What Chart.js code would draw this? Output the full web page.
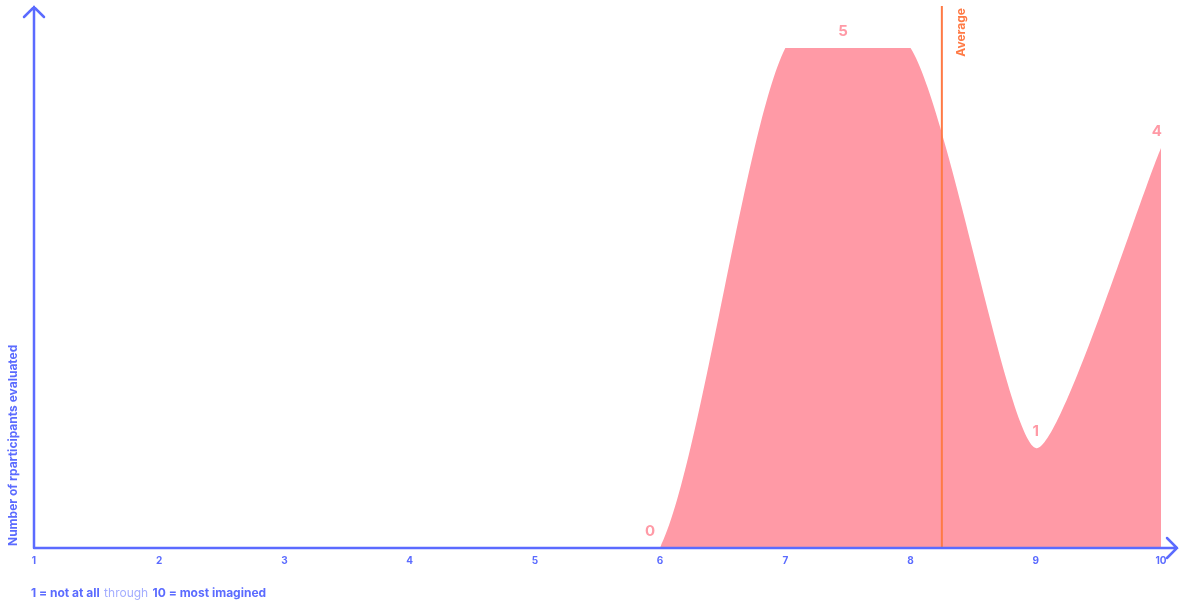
<!DOCTYPE html>
<html>
<head>
<meta charset="utf-8">
<script src="https://cdn.jsdelivr.net/npm/chart.js@4"></script>
<style>
  html, body { margin: 0; padding: 0; background: #fff; }
  #wrap { width: 1179px; height: 605px; position: relative; }
</style>
</head>
<body>
<div id="wrap"><canvas id="chart"></canvas></div>
<script>
// scores 1..10 and how many participants picked each one
const scores = [1, 2, 3, 4, 5, 6, 7, 8, 9, 10];
const participants = [0, 0, 0, 0, 0, 0, 5, 5, 1, 4];
const averageScore = 8.25;
const yTitle = 'Number of rparticipants evaluated';
const captionParts = [
    { text: '1 = not at all', bold: true },
    { text: ' through ', bold: false },
    { text: '10 = most imagined', bold: true }
];

const blue = '#5b6bff';
const lightBlue = '#a3adff';
const pink = '#ff9aa6';
const orange = '#ff7a45';
const fontFamily = 'Inter, "Noto Sans", sans-serif';

// axes with arrows, tick labels, titles, average line and value labels
const decorations = {
    id: 'decorations',
    afterDatasetsDraw(chart) {
        const { ctx, chartArea, scales } = chart;
        const xs = scales.x, ys = scales.y;
        const x0 = chartArea.left, y0 = chartArea.bottom;

        // average line
        const ax = xs.getPixelForValue(averageScore);
        ctx.save();
        ctx.strokeStyle = orange;
        ctx.lineWidth = 2;
        ctx.beginPath();
        ctx.moveTo(ax, 6);
        ctx.lineTo(ax, y0);
        ctx.stroke();
        ctx.translate(ax + 20, 8);
        ctx.rotate(-Math.PI / 2);
        ctx.fillStyle = orange;
        ctx.font = 'bold 12px ' + fontFamily;
        ctx.textAlign = 'right';
        ctx.textBaseline = 'middle';
        ctx.fillText('Average', 0, 0);
        ctx.restore();

        // axis lines
        ctx.save();
        ctx.strokeStyle = blue;
        ctx.lineWidth = 2.5;
        ctx.lineCap = 'round';
        ctx.beginPath();
        ctx.moveTo(x0, y0);
        ctx.lineTo(x0, 7);
        ctx.moveTo(x0 - 10, 17);
        ctx.lineTo(x0, 7);
        ctx.lineTo(x0 + 10, 17);
        ctx.moveTo(x0, y0);
        ctx.lineTo(1177, y0);
        ctx.moveTo(1167, y0 - 10);
        ctx.lineTo(1177, y0);
        ctx.lineTo(1167, y0 + 10);
        ctx.stroke();
        ctx.restore();

        // x tick labels
        ctx.save();
        ctx.fillStyle = blue;
        ctx.font = 'bold 10px ' + fontFamily;
        ctx.textAlign = 'center';
        ctx.textBaseline = 'middle';
        scores.forEach(s => ctx.fillText(String(s), xs.getPixelForValue(s), y0 + 13));
        ctx.restore();

        // y title
        ctx.save();
        ctx.translate(13, y0 - 2);
        ctx.rotate(-Math.PI / 2);
        ctx.fillStyle = blue;
        ctx.font = 'bold 12px ' + fontFamily;
        ctx.textAlign = 'left';
        ctx.textBaseline = 'middle';
        ctx.fillText(yTitle, 0, 0);
        ctx.restore();

        // caption under the axis
        ctx.save();
        ctx.textBaseline = 'middle';
        ctx.textAlign = 'left';
        let cx = 31;
        captionParts.forEach(p => {
            ctx.font = (p.bold ? 'bold ' : '') + '12px ' + fontFamily;
            ctx.fillStyle = p.bold ? blue : lightBlue;
            ctx.fillText(p.text, cx, 593);
            cx += ctx.measureText(p.text).width + 1;
        });
        ctx.restore();

        // value labels: one per run of equal values
        ctx.save();
        ctx.fillStyle = pink;
        ctx.font = 'bold 15px ' + fontFamily;
        ctx.textBaseline = 'middle';
        let start = 0;
        for (let i = 1; i <= participants.length; i++) {
            if (i < participants.length && participants[i] === participants[start]) continue;
            const end = i - 1;
            const v = participants[start];
            let px, align = 'center';
            if (start === 0) {
                px = xs.getPixelForValue(scores[end]) - 5;
                align = 'right';
            } else if (end === participants.length - 1) {
                px = xs.getPixelForValue(scores[end]) + 1;
                align = 'right';
            } else if (end > start) {
                px = xs.getPixelForValue((scores[start] + scores[end]) / 2) - 5;
            } else {
                px = xs.getPixelForValue(scores[start]);
            }
            ctx.textAlign = align;
            ctx.fillText(String(v), px, ys.getPixelForValue(v) - 17);
            start = i;
        }
        ctx.restore();
    }
};

new Chart(document.getElementById('chart'), {
    type: 'line',
    data: {
        datasets: [{
            data: scores.map((s, i) => ({ x: s, y: participants[i] })),
            backgroundColor: pink,
            borderColor: pink,
            borderWidth: 0,
            fill: 'origin',
            tension: 0.2,
            pointRadius: 0
        }]
    },
    options: {
        responsive: true,
        maintainAspectRatio: false,
        animation: false,
        layout: { padding: { left: 34, right: 18, top: 48, bottom: 57 } },
        plugins: { legend: { display: false }, tooltip: { enabled: false } },
        scales: {
            x: { type: 'linear', min: 1, max: 10, display: false },
            y: { min: 0, max: 5, display: false }
        }
    },
    plugins: [decorations]
});
</script>
</body>
</html>
